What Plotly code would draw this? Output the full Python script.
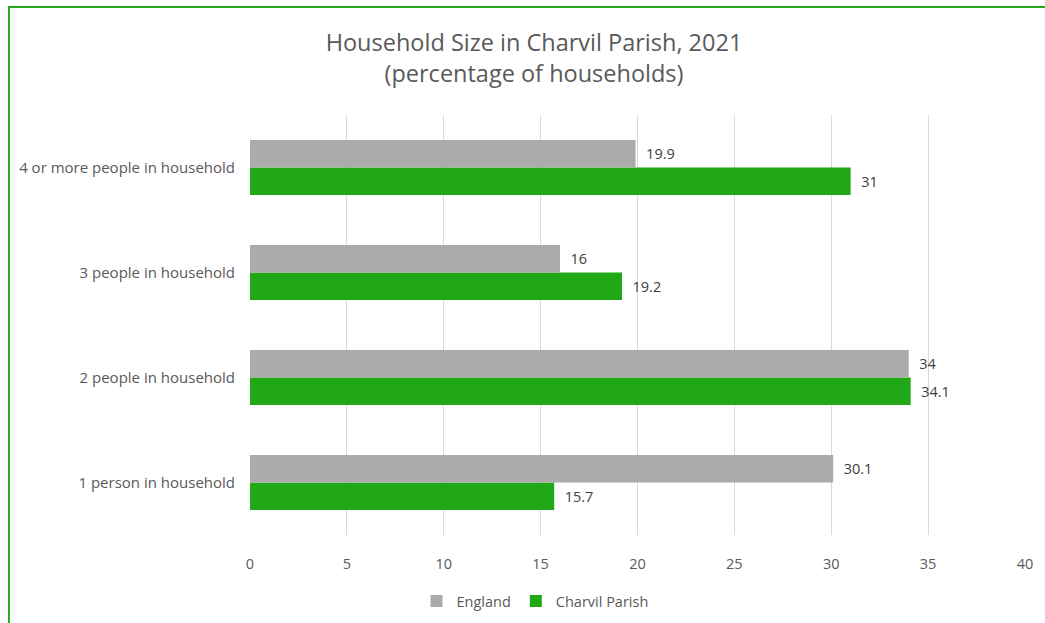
import plotly.graph_objects as go

categories = ["1 person in household", "2 people in household", "3 people in household", "4 or more people in household"]
england = [30.1, 34, 16, 19.9]
charvil = [15.7, 34.1, 19.2, 31]
x_ticks = [0, 5, 10, 15, 20, 25, 30, 35, 40]

W, H = 1045, 623
L, R, T, B = 250, 17, 115, 88
pw, ph = W - L - R, H - T - B

FONT = "Open Sans"
PAD = "\u00a0\u00a0"
fig = go.Figure()
fig.add_trace(go.Bar(
    y=categories, x=charvil, orientation="h", name="Charvil Parish",
    marker=dict(color="#21A816", line=dict(width=0)),
    text=[PAD + f"{v:g}" for v in charvil], textposition="outside",
    textfont=dict(size=14.5, color="#404040", family=FONT), cliponaxis=False,
))
fig.add_trace(go.Bar(
    y=categories, x=england, orientation="h", name="England",
    marker=dict(color="#ABABAB", line=dict(width=0)),
    text=[PAD + f"{v:g}" for v in england], textposition="outside",
    textfont=dict(size=14.5, color="#404040", family=FONT), cliponaxis=False,
))

def px_x(p):
    return (p - L) / pw

def px_y(p):
    return (H - B - p) / ph

fig.update_layout(
    width=W, height=H,
    margin=dict(l=L, r=R, t=T, b=B),
    paper_bgcolor="white", plot_bgcolor="white",
    barmode="group", bargap=0.476, bargroupgap=0,
    font=dict(family=FONT, color="#595959"),
    title=dict(
        text="Household Size in Charvil Parish, 2021<br>(percentage of households)",
        x=534 / W, xanchor="center", xref="container",
        y=1 - 51 / H, yanchor="middle", yref="container",
        font=dict(size=23.5, color="#595959", family=FONT),
    ),
    xaxis=dict(
        range=[0, 40], tickvals=x_ticks, showgrid=True, gridcolor="#D9D9D9",
        gridwidth=1, zeroline=False, showline=False, ticks="",
        tickfont=dict(size=14.5, color="#595959"), ticklabelstandoff=18,
    ),
    yaxis=dict(
        showgrid=False, zeroline=False, showline=False, ticks="",
        tickfont=dict(size=15, color="#595959"), ticklabelstandoff=14,
    ),
    legend=dict(
        orientation="h", x=535 / W, xanchor="center", xref="container",
        y=1 - 601 / H, yanchor="middle", yref="container",
        traceorder="reversed", font=dict(size=14.5, color="#595959"),
        itemwidth=30,
    ),
    showlegend=True,
    shapes=[dict(
        type="rect", xref="paper", yref="paper",
        x0=px_x(8), x1=px_x(W + 10), y0=px_y(H + 10), y1=px_y(7),
        line=dict(color="#22A81A", width=2), fillcolor="rgba(0,0,0,0)",
        layer="above",
    )],
)

fig.write_html("out.html")
